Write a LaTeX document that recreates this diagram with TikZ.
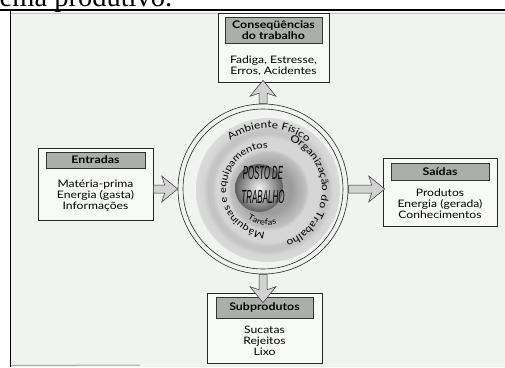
\documentclass[tikz,border=0pt]{standalone}
\usepackage{fontspec}
\usepackage{graphicx}
\newfontfamily\labelfont[FakeStretch=1.18]{Lato}
\newfontfamily\pagefont{Liberation Serif}
\newfontfamily\postofont{Liberation Sans}
\usetikzlibrary{positioning,calc,decorations.text}
\definecolor{scanbg}{RGB}{240,243,239}
\definecolor{headgray}{RGB}{172,174,172}
\pgfdeclareradialshading{workrings}{\pgfpoint{0bp}{0bp}}{%
  color(0bp)=(gray!78); color(8bp)=(gray!78); color(10.4bp)=(gray!64);
  color(13bp)=(gray!50); color(14.2bp)=(gray!32); color(18bp)=(gray!32);
  color(19.5bp)=(gray!46); color(21bp)=(gray!46); color(22.5bp)=(gray!33);
  color(25bp)=(gray!29); color(50bp)=(gray!29)}
\tikzset{
  outerbox/.style={draw=black!85, fill=white!55!scanbg, line width=0.6pt, inner sep=0pt},
  headbox/.style={draw=black!80, fill=headgray, line width=0.7pt, inner sep=0pt, align=center,
    font=\labelfont\bfseries\fontsize{10.5}{11.5}\selectfont},
  bodytext/.style={inner sep=0pt, align=center, font=\labelfont\fontsize{10.3}{10.8}\selectfont},
  arctext/.style 2 args={decorate, decoration={text along path, text align=center,
    text={|\labelfont\fontsize{#1}{#1}\selectfont|#2}}},
  blockarrow/.style={draw=black!80, line width=0.5pt, fill=gray!35,
    to path={
      ($(\tikztostart)!4pt!90:(\tikztotarget)$)
      -- ($($(\tikztotarget)!13pt!(\tikztostart)$)!4pt!90:(\tikztotarget)$)
      -- ($($(\tikztotarget)!16pt!(\tikztostart)$)!13pt!90:(\tikztotarget)$)
      -- (\tikztotarget)
      -- ($($(\tikztotarget)!16pt!(\tikztostart)$)!13pt!-90:(\tikztotarget)$)
      -- ($($(\tikztotarget)!13pt!(\tikztostart)$)!4pt!-90:(\tikztotarget)$)
      -- ($(\tikztostart)!4pt!-90:(\tikztotarget)$) -- cycle}}
}
\begin{document}
\begin{tikzpicture}[x=1pt, y=1pt]
    \useasboundingbox (0,0) rectangle (505,-367);
    \clip (0,0) rectangle (505,-367);

    % Scanned page
    \node[anchor=base west, inner sep=0pt, font=\pagefont\fontsize{28.5}{30}\selectfont] (pagetext) at (-0.5,-6.5) {ema produtivo.};
    \fill[scanbg] (11,-12) rectangle (505,-367);
    \draw[gray!45, line width=0.8pt] (11,-13) -- (505,-13);
    \draw[line width=2pt] (0,-9.5) -- (505,-9.5);
    \draw[line width=1.8pt] (10.5,-9) -- (10.5,-367);
    \draw[gray!70, line width=1pt] (11,-365.5) -- (140,-365);

    % Outer ring
    \node[circle, draw=black!85, line width=0.6pt, minimum size=170pt, inner sep=0pt] (ring) at (263,-189) {};
    \draw[black!85, line width=0.6pt] (ring.center) circle[radius=80pt];

    % Shaded disc and sphere
    \node[circle, minimum size=144pt, inner sep=0pt, shade, shading=workrings] (disk) at (268,-190) {};
    \node[circle, minimum size=48pt, inner sep=0pt, shade, inner color=gray!8, outer color=gray!75!black] (sphere) at (259,-188) {};
    \node[align=center, inner sep=0pt, font=\postofont\itshape\fontsize{19}{24}\selectfont] (posto) at (263,-184.5)
        {\scalebox{0.41}[1]{POSTO DE}\\\scalebox{0.42}[1]{TRABALHO}};

    % Curved labels
    \path[arctext={10}{Ambiente Físico}] ([shift={(149:62pt)}]disk.center) arc[start angle=149, end angle=29, radius=62pt];
    \path[arctext={10}{Organização do Trabalho}] ([shift={(83:54pt)}]disk.center) arc[start angle=83, end angle=-87, radius=54pt];
    \path[arctext={9.5}{Máquinas e equipamentos}] ([shift={(288:42pt)}]disk.center) arc[start angle=288, end angle=68, radius=42pt];
    \path[arctext={8}{Tarefas}] ([shift={(219:35pt)}]disk.center) arc[start angle=219, end angle=299, radius=35pt];

    % Boxes
    \node[outerbox, minimum width=111pt, minimum height=69pt] (cons) at (273.5,-47.5) {};
    \node[headbox, minimum width=97pt, minimum height=26pt, below=4pt of cons.north] (consh) {Conseqüências\\do trabalho};
    \node[bodytext] (consb) at (273.5,-66) {Fadiga, Estresse,\\Erros, Acidentes};

    \node[outerbox, minimum width=115pt, minimum height=72pt] (entr) at (95.5,-184) {};
    \node[headbox, minimum width=99pt, minimum height=16pt, below=4pt of entr.north] (entrh) {Entradas};
    \node[bodytext] (entrb) at (95.5,-195.5) {Matéria-prima\\Energia (gasta)\\Informações};

    \node[outerbox, minimum width=114pt, minimum height=68pt] (sai) at (440,-192) {};
    \node[headbox, minimum width=98pt, minimum height=17pt, below=5pt of sai.north] (saih) {Saídas};
    \node[bodytext] (saib) at (440,-203.5) {Produtos\\Energia (gerada)\\Conhecimentos};

    \node[outerbox, minimum width=115pt, minimum height=70pt] (sub) at (264.5,-328) {};
    \node[headbox, minimum width=97pt, minimum height=21pt, below=4pt of sub.north] (subh) {Subprodutos};
    \node[bodytext] (subb) at (264.5,-340.5) {Sucatas\\Rejeitos\\Lixo};

    % Block arrows
    \draw[blockarrow] (ring.north) to ([yshift=2pt]ring.north |- cons.south);
    \draw[blockarrow] (entr.east |- ring.west) to (ring.west);
    \draw[blockarrow] (ring.east) to ([xshift=2pt]ring.east -| sai.west);
    \draw[blockarrow] (ring.south) to ([yshift=-10pt]ring.south |- sub.north);
\end{tikzpicture}
\end{document}
